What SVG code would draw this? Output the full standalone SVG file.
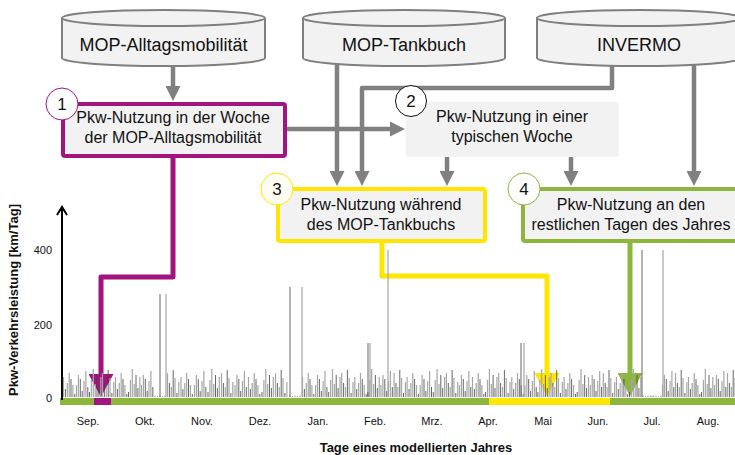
<svg xmlns="http://www.w3.org/2000/svg" xmlns:xlink="http://www.w3.org/1999/xlink" width="735" height="455" viewBox="0 0 735 455">
<style>
text{font-family:"Liberation Sans",Arial,sans-serif;fill:#111}
.cyl{fill:#f2f2f2;stroke:#7f7f7f;stroke-width:2}
.ct{font-size:18px;text-anchor:middle}
.bt{font-size:16px;text-anchor:middle}
.num{font-size:17px;text-anchor:middle}
.con{fill:none;stroke:#808080;stroke-width:4.5;stroke-linejoin:round}
.big{fill:none;stroke-width:5;stroke-linejoin:round}
.tick{font-size:11px}
.mon{font-size:11px;text-anchor:middle}
.bl{fill:none;stroke:#a6a6a6;stroke-width:1.2}
.bd{fill:none;stroke:#404040;stroke-width:0.8}
</style>
<defs>
<marker id="ag" viewBox="0 0 15 15" markerWidth="15" markerHeight="15" refX="0" refY="7.5" markerUnits="userSpaceOnUse" orient="auto"><path d="M0,0 L15,7.5 L0,15 z" fill="#808080"/></marker>
<marker id="am" viewBox="0 0 23 25" markerWidth="23" markerHeight="25" refX="0" refY="12.5" markerUnits="userSpaceOnUse" orient="auto"><path d="M0,0 L23,12.5 L0,25 z" fill="#a2157f"/></marker>
<marker id="ay" viewBox="0 0 23 25" markerWidth="23" markerHeight="25" refX="0" refY="12.5" markerUnits="userSpaceOnUse" orient="auto"><path d="M0,0 L23,12.5 L0,25 z" fill="#ffe600"/></marker>
<marker id="agr" viewBox="0 0 23 25" markerWidth="23" markerHeight="25" refX="0" refY="12.5" markerUnits="userSpaceOnUse" orient="auto"><path d="M0,0 L23,12.5 L0,25 z" fill="#8cb63c"/></marker>
<g id="wA"><path class="bl" d="M0.5 0v-20M4.3 0v-14M6.2 0v-24M9.9 0v-12"/><path class="bd" d="M2.4 0v-8M8 0v-18M11.8 0v-3"/></g>
<g id="wB"><path class="bl" d="M0.5 0v-12M2.4 0v-22M8 0v-16M9.9 0v-26"/><path class="bd" d="M4.3 0v-18M6.2 0v-6M11.8 0v-10"/></g>
<g id="wC"><path class="bl" d="M2.4 0v-17M4.3 0v-28M6.2 0v-13M11.8 0v-20"/><path class="bd" d="M0.5 0v-5M8 0v-22M9.9 0v-9"/></g>
<g id="wD"><path class="bl" d="M0.5 0v-24M4.3 0v-10M8 0v-19M11.8 0v-15"/><path class="bd" d="M2.4 0v-14M6.2 0v-27M9.9 0v-4"/></g>
<g id="wL"><path class="bl" d="M1 0v-1.5M3.5 0v-1M6 0v-1.5M8.5 0v-1M11 0v-1.5"/></g>
</defs>

<g id="connectors">
<path class="con" d="M173 66V86" marker-end="url(#ag)"/>
<path class="con" d="M287 129H390" marker-end="url(#ag)"/>
<path class="con" d="M337 62V171" marker-end="url(#ag)"/>
<path class="con" d="M612 62V88H362V171" marker-end="url(#ag)"/>
<path class="con" d="M447 157V171" marker-end="url(#ag)"/>
<path class="con" d="M571 157V171" marker-end="url(#ag)"/>
<path class="con" d="M694 62V171" marker-end="url(#ag)"/>
<path class="big" stroke="#a2157f" d="M173 157V277H101V374" marker-end="url(#am)"/>
<path class="big" stroke="#ffe600" d="M382 242V276H547V373" marker-end="url(#ay)"/>
<path class="big" stroke="#8cb63c" d="M630 242V373" marker-end="url(#agr)"/>
</g>

<g id="db1">
<path class="cyl" d="M62 18V58A101.5 8 0 0 0 265 58V18"/>
<ellipse class="cyl" cx="163.5" cy="18" rx="101.5" ry="8"/>
<text class="ct" x="163.5" y="51">MOP-Alltagsmobilität</text>
</g>
<g id="db2">
<path class="cyl" d="M303 18V58A101 8 0 0 0 505 58V18"/>
<ellipse class="cyl" cx="404" cy="18" rx="101" ry="8"/>
<text class="ct" x="404" y="51">MOP-Tankbuch</text>
</g>
<g id="db3">
<path class="cyl" d="M537 18V58A102 8 0 0 0 741 58V18"/>
<ellipse class="cyl" cx="639" cy="18" rx="102" ry="8"/>
<text class="ct" x="639" y="51">INVERMO</text>
</g>

<g id="box1">
<rect x="63" y="104" width="222" height="52" rx="2" fill="#f2f2f2" stroke="#a2157f" stroke-width="4"/>
<circle cx="62" cy="104" r="16" fill="#fff" stroke="#a2157f" stroke-width="1"/>
<text class="num" x="62" y="110">1</text>
<text class="bt" x="173" y="123">Pkw-Nutzung in der Woche</text>
<text class="bt" x="173" y="143">der MOP-Alltagsmobilität</text>
</g>
<g id="box2">
<rect x="406" y="102" width="213" height="55" rx="3" fill="#f2f2f2"/>
<circle cx="411" cy="101" r="15.5" fill="#fff" stroke="#111" stroke-width="1"/>
<text class="num" x="411" y="107">2</text>
<text class="bt" x="512" y="122">Pkw-Nutzung in einer</text>
<text class="bt" x="512" y="142">typischen Woche</text>
</g>
<g id="box3">
<rect x="278" y="189" width="207" height="52" rx="2" fill="#f2f2f2" stroke="#ffe600" stroke-width="4"/>
<circle cx="277" cy="189" r="16" fill="#fffef4" stroke="#ffe600" stroke-width="1"/>
<text class="num" x="277" y="195">3</text>
<text class="bt" x="381" y="210">Pkw-Nutzung während</text>
<text class="bt" x="381" y="230">des MOP-Tankbuchs</text>
</g>
<g id="box4">
<rect x="523" y="189" width="220" height="52" rx="2" fill="#f2f2f2" stroke="#8cb63c" stroke-width="4"/>
<circle cx="524" cy="189" r="16" fill="#fff" stroke="#8cb63c" stroke-width="1"/>
<text class="num" x="524" y="195">4</text>
<text class="bt" x="631" y="210">Pkw-Nutzung an den</text>
<text class="bt" x="631" y="230">restlichen Tagen des Jahres</text>
</g>

<g id="chart">
<rect x="60" y="398" width="675" height="7" fill="#8cb63c"/>
<rect x="489" y="398" width="121" height="7" fill="#ffe600"/>
<rect x="94" y="398" width="17" height="7" fill="#a2157f"/>
<path d="M62 400V208" stroke="#000" stroke-width="2" fill="none"/>
<path d="M57 215L62 207L67 215" stroke="#000" stroke-width="2" fill="none"/>
<text class="tick" x="52" y="254" text-anchor="end">400</text>
<text class="tick" x="52" y="329" text-anchor="end">200</text>
<text class="tick" x="52" y="402" text-anchor="end">0</text>
<text transform="translate(18,300) rotate(-90)" font-size="13" font-weight="bold" text-anchor="middle">Pkw-Verkehrsleistung [km/Tag]</text>
<text x="416" y="452" font-size="13" font-weight="bold" text-anchor="middle">Tage eines modellierten Jahres</text>
<text class="mon" x="88" y="425">Sep.</text>
<text class="mon" x="145" y="425">Okt.</text>
<text class="mon" x="202" y="425">Nov.</text>
<text class="mon" x="260" y="425">Dez.</text>
<text class="mon" x="318" y="425">Jan.</text>
<text class="mon" x="375" y="425">Feb.</text>
<text class="mon" x="432" y="425">Mrz.</text>
<text class="mon" x="488" y="425">Apr.</text>
<text class="mon" x="543" y="425">Mai</text>
<text class="mon" x="598" y="425">Jun.</text>
<text class="mon" x="652" y="425">Jul.</text>
<text class="mon" x="708" y="425">Aug.</text>
<g id="bars">
<use xlink:href="#wA" x="63" y="397"/><use xlink:href="#wB" x="76" y="397"/><use xlink:href="#wC" x="89" y="397"/><use xlink:href="#wD" x="102" y="397"/><use xlink:href="#wA" x="115" y="397"/><use xlink:href="#wC" x="128" y="397"/><use xlink:href="#wB" x="141" y="397"/>
<use xlink:href="#wL" x="154" y="397"/>
<use xlink:href="#wD" x="167" y="397"/><use xlink:href="#wA" x="180.5" y="397"/><use xlink:href="#wB" x="194" y="397"/><use xlink:href="#wC" x="207.5" y="397"/><use xlink:href="#wD" x="221" y="397"/><use xlink:href="#wB" x="234.5" y="397"/><use xlink:href="#wA" x="248" y="397"/><use xlink:href="#wC" x="261.5" y="397"/><use xlink:href="#wD" x="275" y="397"/>
<use xlink:href="#wL" x="289" y="397"/>
<use xlink:href="#wA" x="302" y="397"/><use xlink:href="#wB" x="315.1" y="397"/><use xlink:href="#wC" x="328.2" y="397"/><use xlink:href="#wD" x="341.2" y="397"/><use xlink:href="#wA" x="354.3" y="397"/><use xlink:href="#wC" x="367.4" y="397"/><use xlink:href="#wB" x="380.5" y="397"/><use xlink:href="#wD" x="393.6" y="397"/><use xlink:href="#wA" x="406.6" y="397"/><use xlink:href="#wB" x="419.7" y="397"/><use xlink:href="#wC" x="432.8" y="397"/><use xlink:href="#wD" x="445.9" y="397"/><use xlink:href="#wB" x="459" y="397"/><use xlink:href="#wA" x="472" y="397"/><use xlink:href="#wC" x="485.1" y="397"/><use xlink:href="#wD" x="498.2" y="397"/><use xlink:href="#wA" x="511.3" y="397"/><use xlink:href="#wB" x="524.4" y="397"/><use xlink:href="#wC" x="537.4" y="397"/><use xlink:href="#wD" x="550.5" y="397"/><use xlink:href="#wA" x="563.6" y="397"/><use xlink:href="#wC" x="576.7" y="397"/><use xlink:href="#wB" x="589.8" y="397"/><use xlink:href="#wD" x="602.8" y="397"/><use xlink:href="#wA" x="615.9" y="397"/><use xlink:href="#wC" x="629" y="397"/>
<use xlink:href="#wL" x="642" y="397"/><use xlink:href="#wL" x="650" y="397"/>
<use xlink:href="#wB" x="662" y="397"/><use xlink:href="#wD" x="675" y="397"/><use xlink:href="#wA" x="688" y="397"/><use xlink:href="#wC" x="701" y="397"/><use xlink:href="#wB" x="714" y="397"/><use xlink:href="#wD" x="727" y="397"/>
<path class="bd" d="M160 397V294M290 397V287M368 397V343M521 397V343M642 397V250"/>
<path class="bl" d="M166 397V294M302 397V287M370 397V343M388 397V250M524 397V343M663 397V250"/>
</g>
</g>
</svg>
